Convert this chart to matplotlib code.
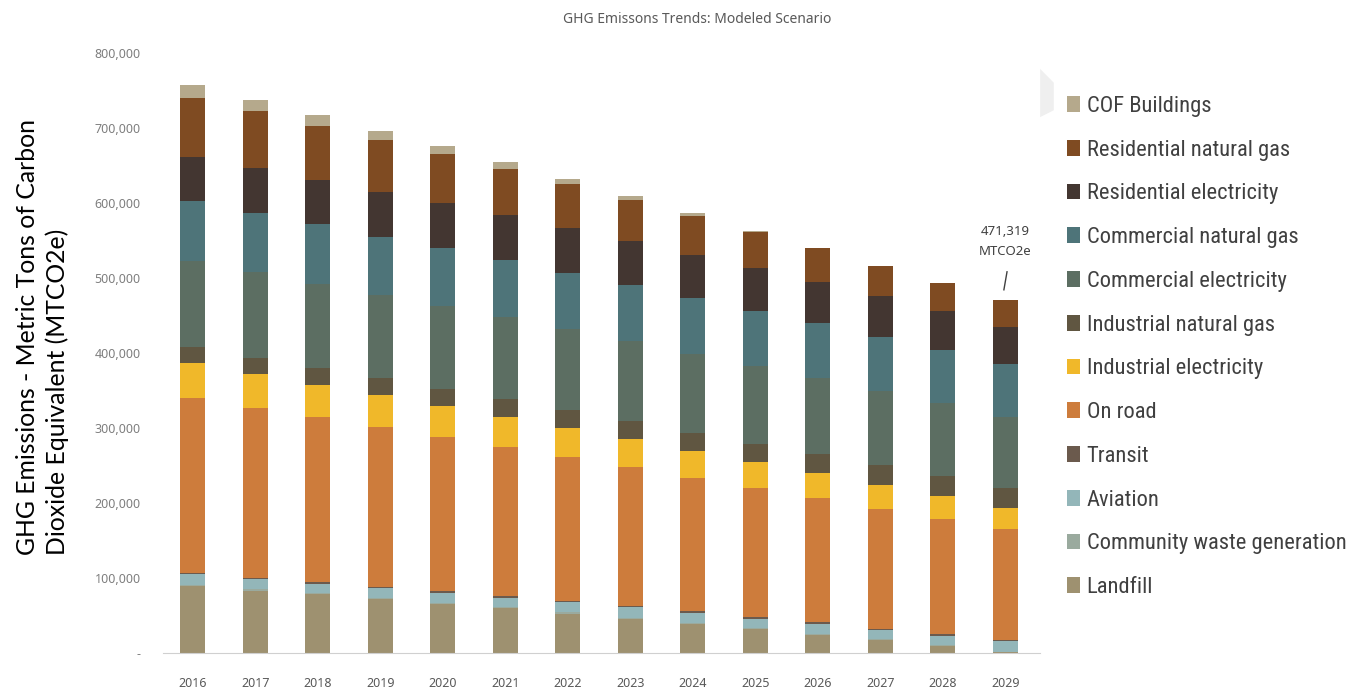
import numpy as np
import matplotlib
matplotlib.use("Agg")
import matplotlib.pyplot as plt
from matplotlib.patches import Polygon
from matplotlib import font_manager

plt.rcParams['font.family'] = ['Noto Sans', 'DejaVu Sans']

# narrower face for the legend
leg_font = 'Lato'
for fam in ['Liberation Sans Narrow', 'Roboto Condensed', 'Open Sans Condensed']:
    try:
        font_manager.findfont(fam, fallback_to_default=False)
        leg_font = fam
        break
    except Exception:
        pass

years = ['2016', '2017', '2018', '2019', '2020', '2021', '2022',
         '2023', '2024', '2025', '2026', '2027', '2028', '2029']

# stacked from the bottom up (values in MTCO2e)
landfill     = [89000, 83300, 78400, 72200, 65000, 59700, 52600, 45600, 38900, 31700, 23700, 17000, 9000, 800]
waste        = [1500, 1500, 1500, 1500, 1500, 1500, 1500, 1500, 1500, 1500, 1500, 1500, 1500, 900]
aviation     = [14400, 13900, 12500, 13000, 13900, 12500, 13900, 13800, 13300, 12500, 13900, 12200, 12600, 13900]
transit      = [1800, 1700, 1900, 1700, 1900, 1900, 1300, 1400, 1900, 1900, 1800, 1700, 1800, 1700]
on_road      = [232900, 226300, 220400, 213300, 205700, 199500, 192000, 185300, 178100, 172000, 165800, 160000, 153800, 148000]
ind_elec     = [46700, 44900, 42600, 41900, 40900, 39600, 38700, 37700, 35200, 34700, 32900, 32000, 31000, 28400]
ind_gas      = [21700, 22400, 23100, 23100, 23100, 24000, 24000, 23600, 24800, 24800, 25700, 25900, 25900, 26700]
comm_elec    = [114300, 113600, 111200, 110200, 110700, 108900, 107600, 106700, 105000, 104000, 101000, 98600, 97300, 94300]
comm_gas     = [80000, 78700, 80000, 77800, 77300, 76400, 75500, 75500, 74600, 73300, 73700, 72800, 71100, 70600]
res_elec     = [59400, 60800, 59700, 60400, 60000, 60400, 59600, 58600, 57400, 57300, 54700, 53900, 52000, 49400]
res_gas      = [78700, 75200, 71800, 68500, 64900, 61300, 58600, 54700, 52000, 47600, 45300, 40800, 37700, 36619]
cof_bldg     = [16900, 15000, 14200, 12800, 11100, 9000, 6700, 4900, 3600, 1400, 0, 0, 0, 0]

series = [
    ('Landfill', landfill, '#9e9170'),
    ('Community waste generation', waste, '#9aaa9e'),
    ('Aviation', aviation, '#93b6b9'),
    ('Transit', transit, '#6b5a4d'),
    ('On road', on_road, '#cd7c3c'),
    ('Industrial electricity', ind_elec, '#f0b82a'),
    ('Industrial natural gas', ind_gas, '#605641'),
    ('Commercial electricity', comm_elec, '#5c6e62'),
    ('Commercial natural gas', comm_gas, '#4e7479'),
    ('Residential electricity', res_elec, '#433631'),
    ('Residential natural gas', res_gas, '#7f4b22'),
    ('COF Buildings', cof_bldg, '#b5a98c'),
]

fig = plt.figure(figsize=(13.65, 6.89), dpi=100)
ax = fig.add_axes([0.1194, 0.0522, 0.6426, 0.8708])

x = np.arange(len(years))
bottom = np.zeros(len(years))
handles = []
for name, vals, col in series:
    vals = np.array(vals, dtype=float)
    b = ax.bar(x, vals, 0.4, bottom=bottom, color=col, label=name, linewidth=0)
    handles.append(b)
    bottom += vals

ax.set_xlim(-0.48, 13.56)
ax.set_ylim(0, 800000)
ax.set_xticks(x)
ax.set_xticklabels(years, fontsize=9, color='#595959')
yt = np.arange(0, 800001, 100000)
ax.set_yticks(yt)
ax.set_yticklabels(['-'] + ['{:,}'.format(int(v)) for v in yt[1:]], fontsize=9, color='#7f7f7f')
ax.tick_params(length=0)
ax.tick_params(axis='x', pad=17)
ax.tick_params(axis='y', pad=16)
for s in ['top', 'right', 'left']:
    ax.spines[s].set_visible(False)
ax.spines['bottom'].set_color('#d0d0d0')

# total label on the last bar
total = bottom[-1]
ax.text(x[-1], total + 55000, '{:,}\nMTCO2e'.format(int(round(total))),
        ha='center', va='bottom', fontsize=9.5, color='#404040', linespacing=1.75)
ax.plot([x[-1] + 0.03, x[-1] - 0.02], [total + 37000, total + 13000], color='#404040', lw=1)

fig.text(0.511, 0.972, 'GHG Emissons Trends: Modeled Scenario', ha='center', va='center',
         fontsize=10, color='#595959')

fig.text(0.031, 0.195, 'GHG Emissions - Metric Tons of Carbon\nDioxide Equivalent (MTCO2e)',
         rotation=90, ha='center', va='bottom', multialignment='left', fontsize=17.8,
         color='black', linespacing=1.3, family=['Lato', 'DejaVu Sans'])

leg = fig.legend(handles[::-1], [s[0] for s in series[::-1]], loc='upper left',
                 bbox_to_anchor=(0.767, 0.89), frameon=False,
                 prop={'family': [leg_font, 'DejaVu Sans'], 'size': 16.2},
                 handlelength=0.56, handleheight=0.7, handletextpad=0.3,
                 labelspacing=1.01, labelcolor='#404040')

# faint scroll marker left of the legend
fig.patches.append(Polygon([(0.762, 0.9), (0.772, 0.88), (0.772, 0.84), (0.762, 0.83)],
                           closed=True, transform=fig.transFigure, facecolor='#efefef',
                           edgecolor='none'))

fig.savefig('out.png', dpi=100)
